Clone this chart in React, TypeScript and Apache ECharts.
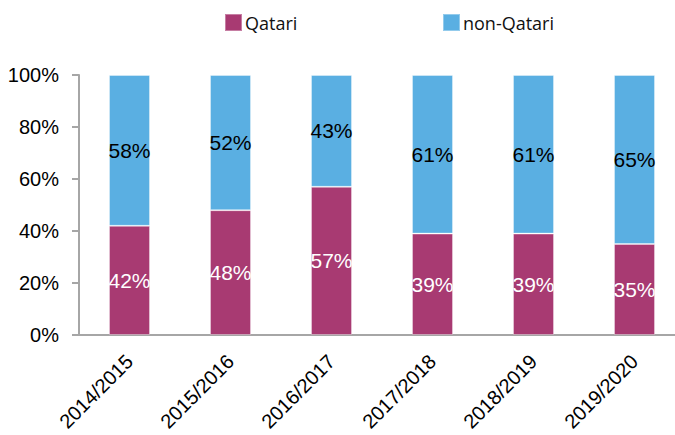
import React, { useEffect, useRef } from "react";
import * as echarts from "echarts";

const categories = ["2014/2015", "2015/2016", "2016/2017", "2017/2018", "2018/2019", "2019/2020"];
const qatari = [42, 48, 57, 39, 39, 35];
const nonQatari = [58, 52, 43, 61, 61, 65];
const yTicks = [0, 20, 40, 60, 80, 100];

const PURPLE = "#A83A72";
const BLUE = "#5AAFE2";
const AXIS = "#A6A6A6";
const FONT = "'Liberation Sans', Arial, sans-serif";
const LEGEND_FONT = "'Open Sans', 'DejaVu Sans', sans-serif";

export default function App() {
  const ref = useRef<HTMLDivElement>(null);
  useEffect(() => {
    if (!ref.current) return;
    const chart = echarts.init(ref.current, null, { renderer: "svg" });
    const legendCommon = {
      top: 13,
      padding: 0,
      itemWidth: 17,
      itemHeight: 17,
      itemGap: 7,
      icon: "rect",
      textStyle: { fontFamily: LEGEND_FONT, fontSize: 18, color: "#111", padding: [0, 0, 0, -2] },
      selectedMode: false,
    };
    chart.setOption({
      animation: false,
      backgroundColor: "#fff",
      legend: [
        { ...legendCommon, left: 224, data: ["Qatari"] },
        { ...legendCommon, left: 442, data: ["non-Qatari"] },
      ],
      grid: { left: 79, top: 75, width: 606, height: 260, containLabel: false },
      xAxis: {
        type: "category",
        data: categories,
        axisLine: { lineStyle: { color: AXIS, width: 2 } },
        axisTick: { show: false },
        axisLabel: {
          rotate: 45,
          margin: 23,
          fontFamily: FONT,
          fontSize: 20,
          color: "#000",
          interval: 0,
        },
      },
      yAxis: {
        type: "value",
        min: yTicks[0],
        max: yTicks[yTicks.length - 1],
        interval: 20,
        splitLine: { show: false },
        axisLine: { show: true, lineStyle: { color: AXIS, width: 2 } },
        axisTick: { show: true, length: 7, lineStyle: { color: AXIS, width: 2 } },
        axisLabel: {
          formatter: "{value}%",
          margin: 20,
          fontFamily: FONT,
          fontSize: 20,
          color: "#000",
        },
      },
      series: [
        {
          name: "Qatari",
          type: "bar",
          stack: "total",
          data: qatari,
          barWidth: 41,
          itemStyle: { color: PURPLE, borderColor: "rgba(255,255,255,0.35)", borderWidth: 1 },
          label: {
            show: true,
            position: "inside",
            formatter: "{c}%",
            color: "#fff",
            fontFamily: FONT,
            fontSize: 21,
          },
        },
        {
          name: "non-Qatari",
          type: "bar",
          stack: "total",
          data: nonQatari,
          barWidth: 41,
          itemStyle: { color: BLUE, borderColor: "rgba(255,255,255,0.35)", borderWidth: 1 },
          label: {
            show: true,
            position: "inside",
            formatter: "{c}%",
            color: "#000",
            fontFamily: FONT,
            fontSize: 21,
          },
        },
      ],
    });
    return () => chart.dispose();
  }, []);
  return (
    <div style={{ position: "fixed", left: 0, top: 0, width: 675, height: 435, overflow: "hidden" }}>
      <div ref={ref} style={{ position: "absolute", left: 0, top: 0, width: 700, height: 435 }} />
    </div>
  );
}
